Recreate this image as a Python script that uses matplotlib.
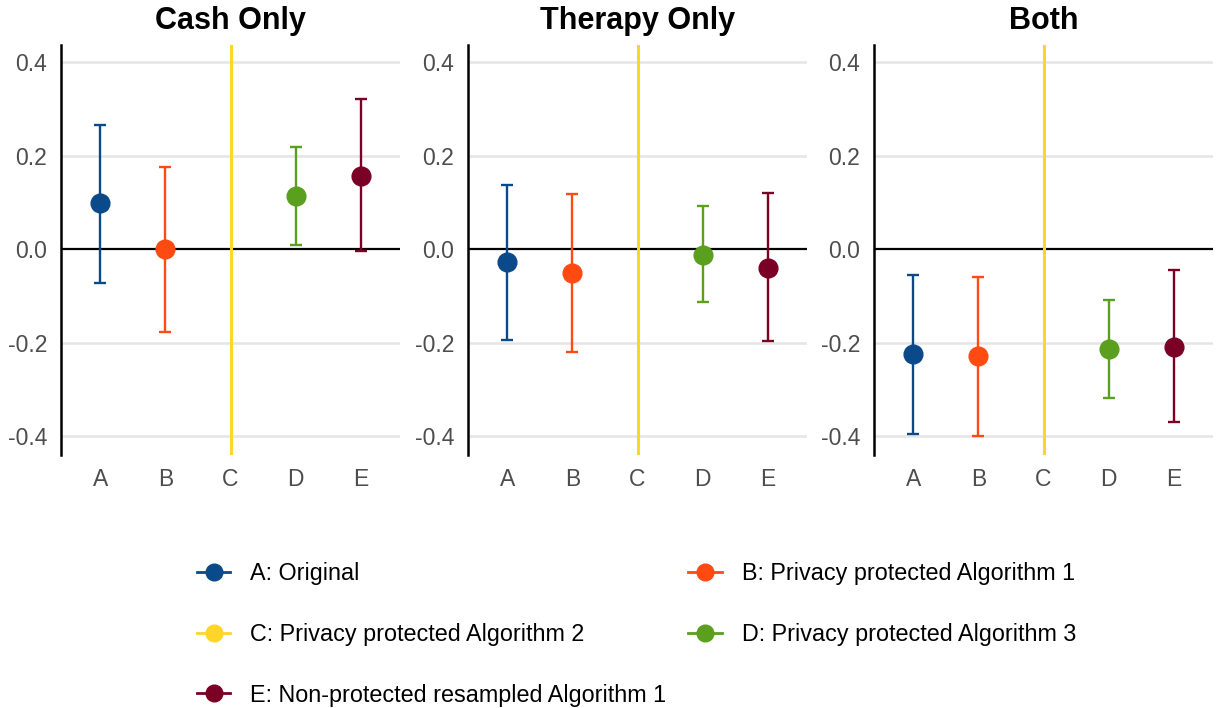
import matplotlib
matplotlib.use("Agg")
import matplotlib.pyplot as plt
from matplotlib.lines import Line2D
import numpy as np

plt.rcParams['font.family'] = ['Liberation Sans', 'DejaVu Sans']
plt.rcParams['axes.unicode_minus'] = False

panels = ["Cash Only", "Therapy Only", "Both"]
methods = ["A", "B", "C", "D", "E"]
method_labels = ["A: Original",
                 "B: Privacy protected Algorithm 1",
                 "C: Privacy protected Algorithm 2",
                 "D: Privacy protected Algorithm 3",
                 "E: Non-protected resampled Algorithm 1"]
colors = ["#0A4A8A", "#FF4A12", "#FFD52A", "#5A9F1E", "#7A0026"]

# estimates (C has no finite estimate: shown as full-height line)
est = {
    "Cash Only":    [0.098, 0.000, np.nan, 0.114, 0.157],
    "Therapy Only": [-0.028, -0.051, np.nan, -0.013, -0.039],
    "Both":         [-0.225, -0.229, np.nan, -0.214, -0.208],
}
lower = {
    "Cash Only":    [-0.073, -0.177, -np.inf, 0.010, -0.004],
    "Therapy Only": [-0.195, -0.220, -np.inf, -0.113, -0.197],
    "Both":         [-0.396, -0.400, -np.inf, -0.318, -0.370],
}
upper = {
    "Cash Only":    [0.266, 0.176, np.inf, 0.219, 0.321],
    "Therapy Only": [0.138, 0.119, np.inf, 0.093, 0.120],
    "Both":         [-0.056, -0.060, np.inf, -0.109, -0.045],
}
yticks = [-0.4, -0.2, 0.0, 0.2, 0.4]
ytick_labels = ["-0.4", "-0.2", "0.0", "0.2", "0.4"]

W, H = 1216, 708
fig = plt.figure(figsize=(W / 100, H / 100), dpi=100)

lefts = [61, 468, 874]
ax_w = 339
top_px, bot_px = 45, 455

YMIN, YMAX = -0.44, 0.437

for p, left in zip(panels, lefts):
    ax = fig.add_axes([left / W, 1 - bot_px / H, ax_w / W, (bot_px - top_px) / H])
    x = np.arange(1, len(methods) + 1)
    ax.set_xlim(0.4, 5.6)
    ax.set_ylim(YMIN, YMAX)
    for yt in yticks:
        if yt != 0:
            ax.axhline(yt, color="#E5E5E5", lw=1.8, zorder=0)
    ax.axhline(0, color="black", lw=1.6, zorder=1)
    for i, m in enumerate(methods):
        e, lo, hi = est[p][i], lower[p][i], upper[p][i]
        if np.isfinite(lo) and np.isfinite(hi):
            ax.errorbar([x[i]], [e], yerr=[[e - lo], [hi - e]], fmt="o",
                        color=colors[i], ecolor=colors[i], elinewidth=1.7,
                        capsize=4.5, capthick=1.7, markersize=13.5, zorder=3)
        else:
            ax.axvline(x[i], color=colors[i], lw=2.2, zorder=2)
    for s in ["top", "right", "bottom"]:
        ax.spines[s].set_visible(False)
    ax.spines["left"].set_linewidth(1.8)
    ax.spines["left"].set_color("black")
    ax.set_xticks(x)
    ax.set_xticklabels(methods)
    ax.set_yticks(yticks)
    ax.set_yticklabels(ytick_labels)
    ax.tick_params(axis="both", length=0, labelsize=16.5, labelcolor="#4D4D4D")
    ax.tick_params(axis="y", pad=10)
    ax.tick_params(axis="x", pad=9)
    ax.set_title(p, fontsize=22, fontweight="bold", pad=11.5)

handles = [Line2D([0], [0], color=c, marker="o", markersize=12, lw=2) for c in colors]
order = [0, 2, 4, 1, 3]
leg = fig.legend([handles[i] for i in order], [method_labels[i] for i in order],
                 ncol=2, loc="upper left", bbox_to_anchor=(197 / W, 1 - 562 / H),
                 borderaxespad=0, borderpad=0,
                 frameon=False, fontsize=16.8, handlelength=1.42, handletextpad=0.86,
                 columnspacing=0.95, labelspacing=1.62)

fig.savefig("out.png", dpi=100)
